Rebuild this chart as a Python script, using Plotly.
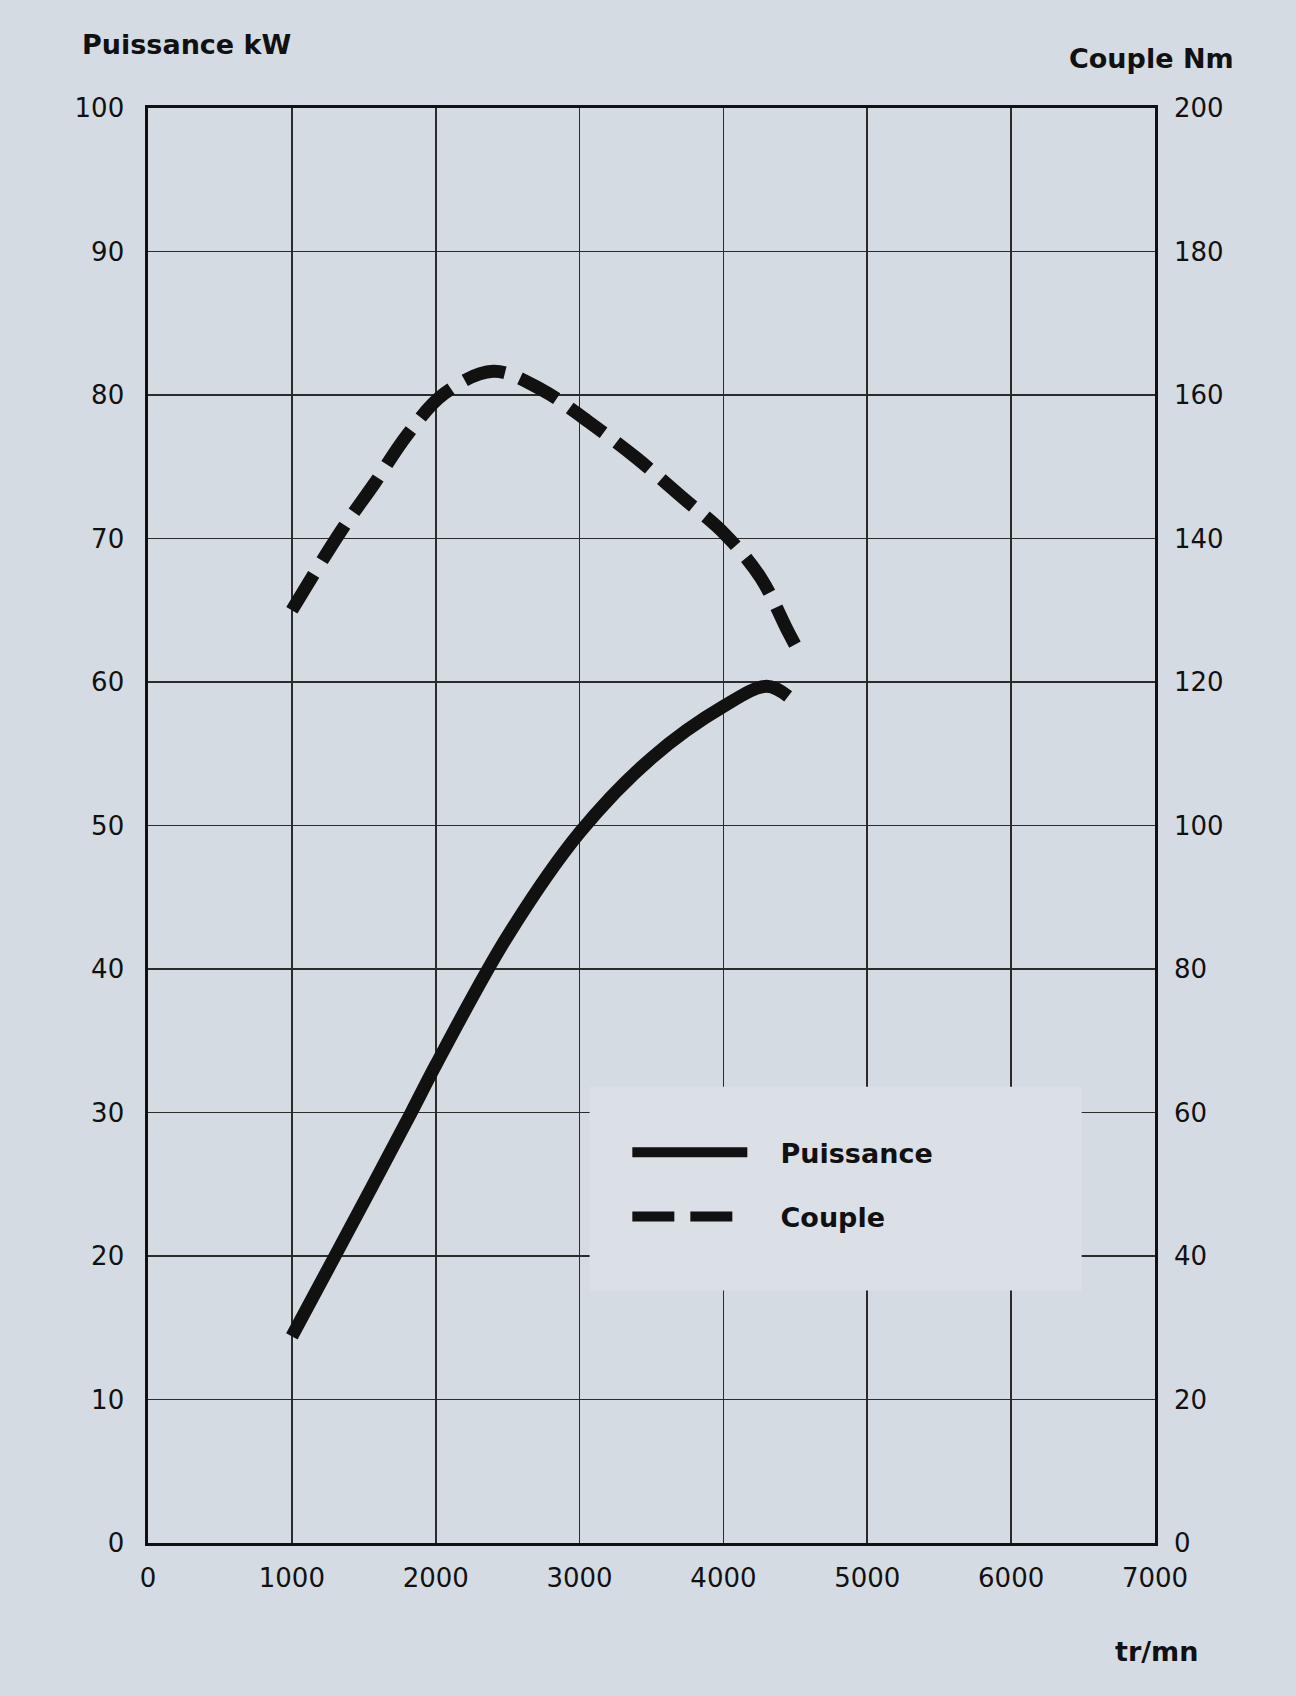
import plotly.graph_objects as go

# --- data ---
rpm_puissance = [1000, 1300, 1830, 2000, 2500, 3000, 3500, 4000, 4300, 4450]
puissance_kw = [14.4, 20.0, 30.0, 33.3, 42.3, 49.5, 54.7, 58.3, 59.7, 59.0]

rpm_couple = [1000, 1340, 1575, 1800, 2060, 2400, 2740, 3060, 3390, 3710, 4010, 4260, 4450, 4530]
couple_nm = [130.0, 141.0, 147.7, 154.4, 160.2, 163.3, 160.7, 156.3, 151.3, 145.8, 140.6, 134.5, 127.0, 124.0]

x_ticks = [0, 1000, 2000, 3000, 4000, 5000, 6000, 7000]
y_ticks_kw = [0, 10, 20, 30, 40, 50, 60, 70, 80, 90, 100]
y_ticks_nm = [0, 20, 40, 60, 80, 100, 120, 140, 160, 180, 200]

BG = "#d5dbe2"
BOX = "#dbe0e7"
INK = "#111111"
FONT = "DejaVu Sans"
NB = "\u00a0"

fig = go.Figure()

fig.add_trace(go.Scatter(
    x=rpm_puissance, y=puissance_kw, name=NB * 3 + "Puissance", mode="lines",
    line=dict(color=INK, width=13, shape="spline", smoothing=1.0),
    legendgroup="p", yaxis="y",
))
fig.add_trace(go.Scatter(
    x=rpm_couple, y=couple_nm, name=NB * 3 + "Couple", mode="lines",
    line=dict(color=INK, width=13, dash="42px,16px", shape="spline", smoothing=1.0),
    legendgroup="c", yaxis="y2",
))

W, H = 1296, 1696
L, R, T, B = 148, 141, 108, 153

fig.update_layout(
    width=W, height=H,
    margin=dict(l=L, r=R, t=T, b=B, autoexpand=False),
    paper_bgcolor=BG, plot_bgcolor=BG,
    font=dict(family=FONT, color=INK, size=26),
    showlegend=True,
    legend=dict(
        x=0.476, y=0.289, xanchor="left", yanchor="top",
        bgcolor="rgba(0,0,0,0)", borderwidth=0,
        font=dict(family=FONT, size=27, color=INK, weight="bold"),
        itemwidth=115, tracegroupgap=26, traceorder="grouped",
    ),
    xaxis=dict(
        range=[0, 7000], tickvals=x_ticks, ticktext=[str(v) for v in x_ticks],
        showgrid=True, gridcolor="#2b2b2b", gridwidth=1.6,
        zeroline=False, showline=True, linecolor=INK, linewidth=2.6, mirror=True,
        ticks="", ticklabelstandoff=10, tickfont=dict(size=26, color=INK),
        fixedrange=True,
    ),
    yaxis=dict(
        range=[0, 100], tickvals=y_ticks_kw, ticktext=[str(v) for v in y_ticks_kw],
        showgrid=True, gridcolor="#2b2b2b", gridwidth=1.6,
        zeroline=False, showline=True, linecolor=INK, linewidth=2.6, mirror=True,
        ticks="", ticklabelstandoff=16, tickfont=dict(size=26, color=INK),
        fixedrange=True,
    ),
    yaxis2=dict(
        range=[0, 200], tickvals=y_ticks_nm, ticktext=[str(v) for v in y_ticks_nm],
        overlaying="y", side="right", showgrid=False, zeroline=False,
        showline=False, ticks="", ticklabelstandoff=18,
        tickfont=dict(size=26, color=INK), fixedrange=True,
    ),
    shapes=[dict(
        type="rect", xref="x", yref="y", layer="between",
        x0=3070, x1=6490, y0=17.6, y1=31.8,
        fillcolor=BOX, line=dict(width=0),
    )],
    annotations=[
        dict(text="<b>Puissance kW</b>", xref="paper", yref="paper",
             x=-0.068, y=1.0 + (T - 45) / (H - T - B), xanchor="left", yanchor="middle",
             showarrow=False, font=dict(size=27, family=FONT, color=INK)),
        dict(text="<b>Couple Nm</b>", xref="paper", yref="paper",
             x=1.0 + (1236 - (W - R)) / (W - L - R), y=1.0 + (T - 58) / (H - T - B),
             xanchor="right", yanchor="middle",
             showarrow=False, font=dict(size=27, family=FONT, color=INK)),
        dict(text="<b>tr/mn</b>", xref="paper", yref="paper",
             x=1.0 + (1200 - (W - R)) / (W - L - R), y=-(1652 - (H - B)) / (H - T - B),
             xanchor="right", yanchor="middle",
             showarrow=False, font=dict(size=27, family=FONT, color=INK)),
    ],
)

fig.write_html(
    "out.html",
    config={"displayModeBar": False, "staticPlot": True},
    post_script="document.body.style.margin='0';document.body.style.background='%s';"
                "document.body.style.overflow='hidden';" % BG,
)
